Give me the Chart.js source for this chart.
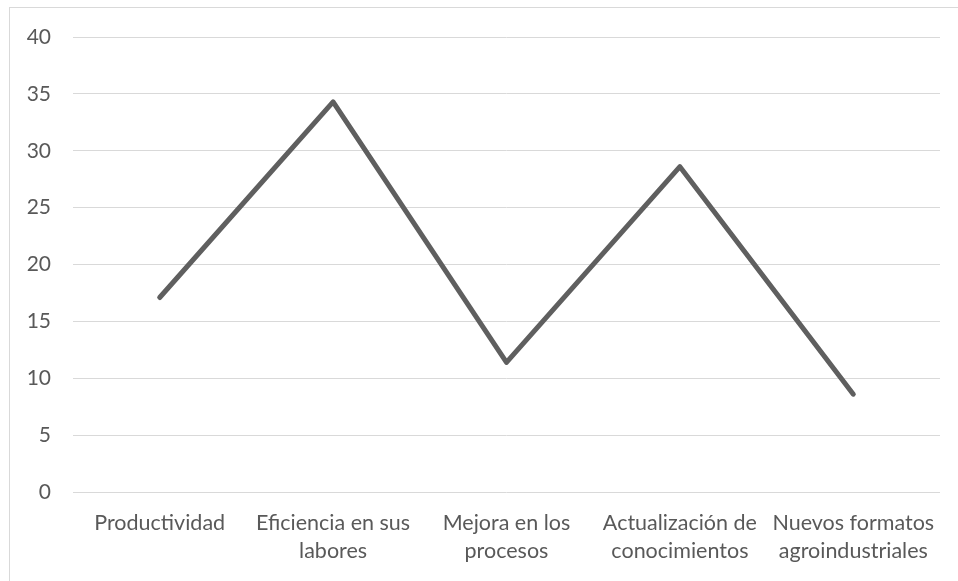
<!DOCTYPE html>
<html>
<head>
<meta charset="utf-8">
<script src="https://cdn.jsdelivr.net/npm/chart.js@4"></script>
<style>
  html, body { margin: 0; padding: 0; background: #fff; }
  #wrap { position: relative; width: 958px; height: 581px; overflow: hidden; }
  #frame { position: absolute; left: 9px; top: 7px; width: 1000px; height: 700px;
           border-left: 1px solid #d9d9d9; border-top: 1px solid #d9d9d9; box-sizing: border-box; }
  canvas { position: absolute; left: 0; top: 0; }
</style>
</head>
<body>
<div id="wrap">
  <div id="frame"></div>
  <canvas id="c" width="958" height="581"></canvas>
</div>
<script>
const categories = [
  'Productividad',
  ['Eficiencia en sus', 'labores'],
  ['Mejora en los', 'procesos'],
  ['Actualización de', 'conocimientos'],
  ['Nuevos formatos', 'agroindustriales']
];
const values = [17.1, 34.3, 11.4, 28.6, 8.6];
const yTicks = [0, 5, 10, 15, 20, 25, 30, 35, 40];

const FONT = "Lato, 'Open Sans', sans-serif";
new Chart(document.getElementById('c'), {
  type: 'line',
  data: {
    labels: categories,
    datasets: [{
      data: values,
      borderColor: '#5f5f5f',
      borderWidth: 5,
      borderCapStyle: 'round',
      borderJoinStyle: 'round',
      pointRadius: 0,
      pointHoverRadius: 0,
      tension: 0,
      fill: false
    }]
  },
  options: {
    responsive: false,
    animation: false,
    events: [],
    layout: { padding: { left: 0, right: 18, top: 37, bottom: 0 } },
    plugins: { legend: { display: false }, tooltip: { enabled: false }, title: { display: false } },
    scales: {
      x: {
        type: 'category',
        offset: true,
        grid: { display: false, drawTicks: false },
        border: { display: false },
        ticks: {
          color: '#595959',
          font: { family: FONT, size: 21.5, lineHeight: 1.3 },
          padding: 17,
          maxRotation: 0,
          autoSkip: false
        },
        afterFit: s => { s.height = 89; }
      },
      y: {
        min: 0,
        max: 40,
        afterBuildTicks: s => { s.ticks = yTicks.map(v => ({ value: v })); },
        grid: { color: '#d9d9d9', lineWidth: 1, drawTicks: false },
        border: { display: false },
        ticks: {
          color: '#595959',
          font: { family: FONT, size: 21 },
          padding: 22
        },
        afterFit: s => { s.width = 73; }
      }
    }
  }
});
</script>
</body>
</html>
